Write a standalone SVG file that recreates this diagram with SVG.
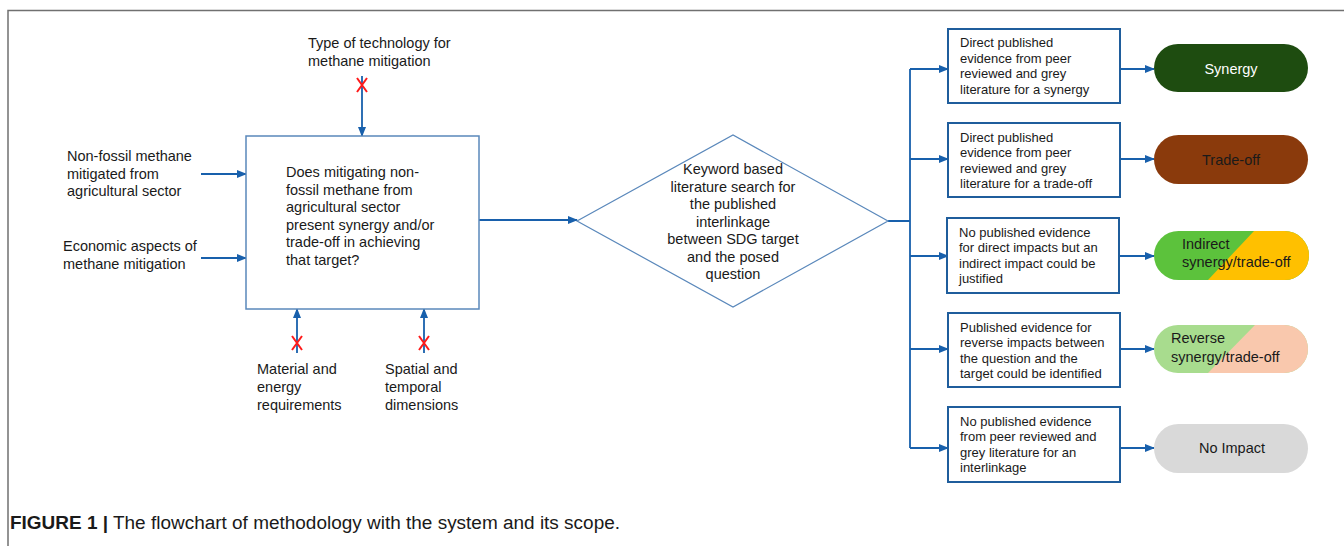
<svg xmlns="http://www.w3.org/2000/svg" width="1344" height="546" viewBox="0 0 1344 546">
  <style>
    text { font-family: "Liberation Sans", Arial, sans-serif; fill: #1a1a1a; }
    .t { font-size: 14.5px; }
    .s { font-size: 13px; }
    .frame { stroke: #707070; stroke-width: 1.5; fill: none; }
    .conn { stroke: #1860ac; stroke-width: 1.8; fill: none; }
    .main { fill: #ffffff; stroke: #5a88bb; stroke-width: 1.5; }
    .dia { fill: #ffffff; stroke: #5a88bb; stroke-width: 1.2; }
    .box { fill: #ffffff; stroke: #1f5d9c; stroke-width: 2; }
    .cross { stroke: #ff1a1a; stroke-width: 2; fill: none; }
    .cap { font-size: 18px; }
  </style>
  <defs>
    <marker id="ah" markerWidth="10" markerHeight="8" refX="9" refY="4" orient="auto" markerUnits="userSpaceOnUse">
      <path d="M0,0 L10,4 L0,8 z" fill="#1860ac"/>
    </marker>
    <clipPath id="clipIndirect"><rect x="1154" y="231" width="155" height="49" rx="24.5"/></clipPath>
    <clipPath id="clipReverse"><rect x="1154" y="325" width="154" height="48" rx="24"/></clipPath>
  </defs>

  <rect width="1344" height="546" fill="#ffffff"/>
  <!-- page frame -->
  <path class="frame" d="M8,546 V10.5 H1344"/>

  <!-- connectors -->
  <g id="connectors">
    <path class="conn" d="M362,76 V136" marker-end="url(#ah)"/>
    <path class="conn" d="M201,174 H246" marker-end="url(#ah)"/>
    <path class="conn" d="M201,258 H246" marker-end="url(#ah)"/>
    <path class="conn" d="M297,353 V309" marker-end="url(#ah)"/>
    <path class="conn" d="M424,353 V309" marker-end="url(#ah)"/>
    <path class="conn" d="M479,220 H577" marker-end="url(#ah)"/>
    <path class="conn" d="M888,221 H910 M910,69 V448"/>
    <path class="conn" d="M910,69 H948" marker-end="url(#ah)"/>
    <path class="conn" d="M910,159 H948" marker-end="url(#ah)"/>
    <path class="conn" d="M910,256 H948" marker-end="url(#ah)"/>
    <path class="conn" d="M910,349 H948" marker-end="url(#ah)"/>
    <path class="conn" d="M910,448 H948" marker-end="url(#ah)"/>
    <path class="conn" d="M1120,69 H1154" marker-end="url(#ah)"/>
    <path class="conn" d="M1120,159 H1154" marker-end="url(#ah)"/>
    <path class="conn" d="M1120,256 H1154" marker-end="url(#ah)"/>
    <path class="conn" d="M1120,349 H1154" marker-end="url(#ah)"/>
    <path class="conn" d="M1120,448 H1154" marker-end="url(#ah)"/>
    <!-- excluded scope marks -->
    <path class="cross" d="M357,78 L367,92 M367,78 L357,92"/>
    <path class="cross" d="M292,336 L302,350 M302,336 L292,350"/>
    <path class="cross" d="M419,336 L429,350 M429,336 L419,350"/>
  </g>

  <!-- scope inputs -->
  <g id="input-technology">
    <text class="t" x="308" y="48">Type of technology for</text>
    <text class="t" x="308" y="65.5">methane mitigation</text>
  </g>
  <g id="input-nonfossil">
    <text class="t" x="67" y="161">Non-fossil methane</text>
    <text class="t" x="67" y="178.5">mitigated from</text>
    <text class="t" x="67" y="196">agricultural sector</text>
  </g>
  <g id="input-economic">
    <text class="t" x="63" y="251">Economic aspects of</text>
    <text class="t" x="63" y="269">methane mitigation</text>
  </g>
  <g id="input-material">
    <text class="t" x="257" y="374">Material and</text>
    <text class="t" x="257" y="392">energy</text>
    <text class="t" x="257" y="409.5">requirements</text>
  </g>
  <g id="input-spatial">
    <text class="t" x="385" y="374">Spatial and</text>
    <text class="t" x="385" y="392">temporal</text>
    <text class="t" x="385" y="409.5">dimensions</text>
  </g>

  <!-- central question -->
  <g id="question">
    <rect class="main" x="246" y="136" width="233" height="173"/>
    <text class="t" x="286" y="177">Does mitigating non-</text>
    <text class="t" x="286" y="194.5">fossil methane from</text>
    <text class="t" x="286" y="212">agricultural sector</text>
    <text class="t" x="286" y="229.5">present synergy and/or</text>
    <text class="t" x="286" y="247">trade-off in achieving</text>
    <text class="t" x="286" y="264.5">that target?</text>
  </g>

  <!-- literature search decision -->
  <g id="search">
    <path class="dia" d="M577,221 L733,135 L888,221 L733,307 Z"/>
    <g text-anchor="middle">
      <text class="t" x="733" y="174">Keyword based</text>
      <text class="t" x="733" y="191.5">literature search for</text>
      <text class="t" x="733" y="209">the published</text>
      <text class="t" x="733" y="226.5">interlinkage</text>
      <text class="t" x="733" y="244">between SDG target</text>
      <text class="t" x="733" y="261.5">and the posed</text>
      <text class="t" x="733" y="279">question</text>
    </g>
  </g>

  <!-- evidence categories -->
  <g id="evidence-synergy">
    <rect class="box" x="948" y="29" width="172" height="74"/>
    <text class="s" x="960" y="47">Direct published</text>
    <text class="s" x="960" y="62.5">evidence from peer</text>
    <text class="s" x="960" y="78">reviewed and grey</text>
    <text class="s" x="960" y="93.5">literature for a synergy</text>
  </g>
  <g id="evidence-tradeoff">
    <rect class="box" x="948" y="123" width="172" height="74"/>
    <text class="s" x="960" y="141.5">Direct published</text>
    <text class="s" x="960" y="157">evidence from peer</text>
    <text class="s" x="960" y="172.5">reviewed and grey</text>
    <text class="s" x="960" y="188">literature for a trade-off</text>
  </g>
  <g id="evidence-indirect">
    <rect class="box" x="947" y="218" width="172" height="75"/>
    <text class="s" x="959" y="236.5">No published evidence</text>
    <text class="s" x="959" y="252">for direct impacts but an</text>
    <text class="s" x="959" y="267.5">indirect impact could be</text>
    <text class="s" x="959" y="283">justified</text>
  </g>
  <g id="evidence-reverse">
    <rect class="box" x="948" y="313" width="172" height="74"/>
    <text class="s" x="960" y="331.5">Published evidence for</text>
    <text class="s" x="960" y="347">reverse impacts between</text>
    <text class="s" x="960" y="362.5">the question and the</text>
    <text class="s" x="960" y="378">target could be identified</text>
  </g>
  <g id="evidence-none">
    <rect class="box" x="948" y="407" width="172" height="75"/>
    <text class="s" x="960" y="425.5">No published evidence</text>
    <text class="s" x="960" y="441">from peer reviewed and</text>
    <text class="s" x="960" y="456.5">grey literature for an</text>
    <text class="s" x="960" y="472">interlinkage</text>
  </g>

  <!-- outcomes -->
  <g id="outcome-synergy">
    <rect x="1154" y="44" width="154" height="48" rx="24" fill="#1e4c10"/>
    <text class="t" x="1231" y="73.5" text-anchor="middle" style="fill:#ffffff">Synergy</text>
  </g>
  <g id="outcome-tradeoff">
    <rect x="1154" y="135" width="154" height="49" rx="24.5" fill="#8a3a0c"/>
    <text class="t" x="1231" y="164.5" text-anchor="middle">Trade-off</text>
  </g>
  <g id="outcome-indirect">
    <g clip-path="url(#clipIndirect)">
      <rect x="1154" y="231" width="155" height="49" fill="#5cc23c"/>
      <path d="M1254,231 H1310 V280 H1208 Z" fill="#ffc000"/>
    </g>
    <text class="t" x="1182" y="249">Indirect</text>
    <text class="t" x="1182" y="267">synergy/trade-off</text>
  </g>
  <g id="outcome-reverse">
    <g clip-path="url(#clipReverse)">
      <rect x="1154" y="325" width="154" height="48" fill="#a8dc8e"/>
      <path d="M1255,325 H1309 V373 H1208 Z" fill="#f9c8ad"/>
    </g>
    <text class="t" x="1171" y="343">Reverse</text>
    <text class="t" x="1171" y="361.5">synergy/trade-off</text>
  </g>
  <g id="outcome-none">
    <rect x="1154" y="424" width="154" height="49" rx="24.5" fill="#d9d9d9"/>
    <text class="t" x="1232" y="453" text-anchor="middle">No Impact</text>
  </g>

  <!-- caption -->
  <text class="cap" x="10" y="529" textLength="610" lengthAdjust="spacingAndGlyphs"><tspan font-weight="bold">FIGURE 1 |</tspan> The flowchart of methodology with the system and its scope.</text>
</svg>
